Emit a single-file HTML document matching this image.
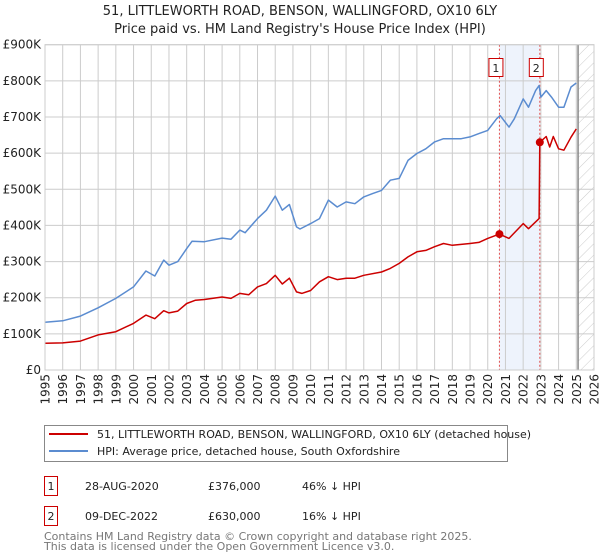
<!DOCTYPE html>
<html><head><meta charset="utf-8"><style>
body{margin:0;background:#fff;font-family:"DejaVu Sans","Liberation Sans",sans-serif;}
svg{display:block}
</style></head><body>
<svg id="c" width="600" height="560" xmlns="http://www.w3.org/2000/svg">
<defs><pattern id="hatch" width="8" height="8" patternUnits="userSpaceOnUse" patternTransform="rotate(45)"><line x1="0" y1="0" x2="0" y2="8" stroke="#ccc" stroke-width="1"/></pattern></defs>
<text x="300" y="15" text-anchor="middle" font-size="13" fill="#222">51, LITTLEWORTH ROAD, BENSON, WALLINGFORD, OX10 6LY</text>
<text x="300" y="33" text-anchor="middle" font-size="13" fill="#222">Price paid vs. HM Land Registry's House Price Index (HPI)</text>
<g id="plot"></g>
<g>
<rect x="44.5" y="425.5" width="463" height="36" fill="#fff" stroke="#888"/>
<line x1="49" y1="434" x2="88" y2="434" stroke="#cc0000" stroke-width="2"/>
<text x="97" y="438" font-size="11" fill="#222">51, LITTLEWORTH ROAD, BENSON, WALLINGFORD, OX10 6LY (detached house)</text>
<line x1="49" y1="451" x2="88" y2="451" stroke="#5b8cd0" stroke-width="2"/>
<text x="97" y="455" font-size="11" fill="#222">HPI: Average price, detached house, South Oxfordshire</text>
</g>
<g font-size="11" fill="#222">
<rect x="44.5" y="476.5" width="13" height="19" fill="#fff" stroke="#cc0000"/>
<text x="51" y="490" text-anchor="middle">1</text>
<text x="85" y="490">28-AUG-2020</text><text x="208" y="490">£376,000</text><text x="302" y="490">46% ↓ HPI</text>
<rect x="44.5" y="506.5" width="13" height="19" fill="#fff" stroke="#cc0000"/>
<text x="51" y="520" text-anchor="middle">2</text>
<text x="85" y="520">09-DEC-2022</text><text x="208" y="520">£630,000</text><text x="302" y="520">16% ↓ HPI</text>
</g>
<text x="44" y="540" font-size="11" fill="#777">Contains HM Land Registry data © Crown copyright and database right 2025.</text>
<text x="44" y="550" font-size="11" fill="#777">This data is licensed under the Open Government Licence v3.0.</text>
</svg>
<script>
const hpiYears=[1995,1996,1997,1998,1999,2000,2000.7,2001.2,2001.7,2002,2002.5,2003,2003.3,2004,2005,2005.5,2006,2006.3,2007,2007.5,2008,2008.4,2008.8,2009.2,2009.4,2010,2010.5,2011,2011.5,2012,2012.5,2013,2013.5,2014,2014.5,2015,2015.5,2016,2016.5,2017,2017.5,2018,2018.5,2019,2019.5,2020,2020.5,2020.7,2021.2,2021.5,2022,2022.3,2022.7,2022.9,2023,2023.3,2023.6,2024,2024.3,2024.7,2025];
const hpiValues=[132,136,149,172,198,230,274,260,304,290,300,336,356,355,365,362,387,380,419,442,481,442,458,396,390,405,419,470,451,465,460,479,488,497,525,530,580,599,612,631,640,640,640,645,654,663,695,704,672,695,750,727,773,787,755,773,755,727,727,783,794];
const ppYears=[1995,1996,1997,1998,1999,2000,2000.7,2001.2,2001.7,2002,2002.5,2003,2003.5,2004,2005,2005.5,2006,2006.5,2007,2007.5,2008,2008.4,2008.8,2009.2,2009.5,2010,2010.5,2011,2011.5,2012,2012.5,2013,2014,2014.5,2015,2015.5,2016,2016.5,2017,2017.5,2018,2019,2019.5,2020,2020.66,2021.2,2022,2022.3,2022.9,2022.94,2023.3,2023.5,2023.7,2024,2024.3,2024.7,2025];
const ppValues=[74,75,80,97,106,129,152,142,164,158,163,184,193,195,202,198,212,208,230,239,262,238,254,216,212,220,244,258,250,254,254,262,271,281,295,313,327,331,341,350,345,350,353,364,376,364,405,391,419,630,646,617,646,612,608,644,667];
const saleYears=[2020.66,2022.94];
const saleValues=[376,630];
const saleLabels=["1","2"];
const yTicks=[0,100,200,300,400,500,600,700,800,900];
const yTickLabels=["£0","£100K","£200K","£300K","£400K","£500K","£600K","£700K","£800K","£900K"];
const xTicks=[1995,1996,1997,1998,1999,2000,2001,2002,2003,2004,2005,2006,2007,2008,2009,2010,2011,2012,2013,2014,2015,2016,2017,2018,2019,2020,2021,2022,2023,2024,2025,2026];

const L=45,R=594,T=44.7,B=370;
const X=y=>L+(y-1995)*(R-L)/31;
const Y=v=>B-v*(B-T)/900;
const NS="http://www.w3.org/2000/svg";
const g=document.getElementById('plot');
function el(t,a,p){const e=document.createElementNS(NS,t);for(const k in a)e.setAttribute(k,a[k]);(p||g).appendChild(e);return e;}
let band=el('rect',{x:X(saleYears[0]),y:T,width:X(saleYears[1])-X(saleYears[0]),height:B-T,fill:'#eef3fc'});


let hz=el('rect',{x:X(2025.1),y:T,width:R-X(2025.1),height:B-T,fill:'url(#hatch)'});


xTicks.forEach(t=>{
 const ln=el('line',{x1:X(t),x2:X(t),y1:T,y2:B,stroke:'#ccc','stroke-width':1});
 
 
 const tx=el('text',{x:0,y:0,'text-anchor':'end','font-size':12,fill:'#222',transform:'translate('+(X(t)+4.5)+','+(B+4)+') rotate(-90)'});
 tx.textContent=t;
 
 
});
yTicks.forEach((t,i)=>{
 const ln=el('line',{x1:L,x2:R,y1:Y(t),y2:Y(t),stroke:'#ccc','stroke-width':1});
 
 
 const tx=el('text',{x:L-4,y:Y(t)+4,'text-anchor':'end','font-size':12,fill:'#222'});
 tx.textContent=yTickLabels[i];
 
 
});
let el2=el('line',{x1:X(2025.1),x2:X(2025.1),y1:T,y2:B,stroke:'#888','stroke-width':1.5});


saleYears.forEach((s,i)=>{
 const ln=el('line',{x1:X(s),x2:X(s),y1:T,y2:B,stroke:'#e05050','stroke-width':1,'stroke-dasharray':'2,2'});
 
 
});
function path(xs,vs,col,name){
 const d=xs.map((x,i)=>(i?'L':'M')+X(x).toFixed(1)+','+Y(vs[i]).toFixed(1)).join('');
 const p=el('path',{d:d,fill:'none',stroke:col,'stroke-width':1.5,'stroke-linejoin':'round'});
 
 
}
path(hpiYears,hpiValues,'#5b8cd0','hpi-line');
path(ppYears,ppValues,'#cc0000','price-paid-line');
saleYears.forEach((s,i)=>{
 const c=el('circle',{cx:X(s),cy:Y(saleValues[i]),r:4,fill:'#cc0000'});
 
 
 const bx=el('rect',{x:X(s)-10.5,y:58.5,width:14,height:18,fill:'#fff',stroke:'#cc0000'});
 
 
 const tx=el('text',{x:X(s)-3.5,y:72,'text-anchor':'middle','font-size':11,fill:'#222'});
 tx.textContent=saleLabels[i];
 
 
});
el('rect',{x:L,y:T,width:R-L,height:B-T,fill:'none',stroke:'#ccc'});
</script>
</body></html>
